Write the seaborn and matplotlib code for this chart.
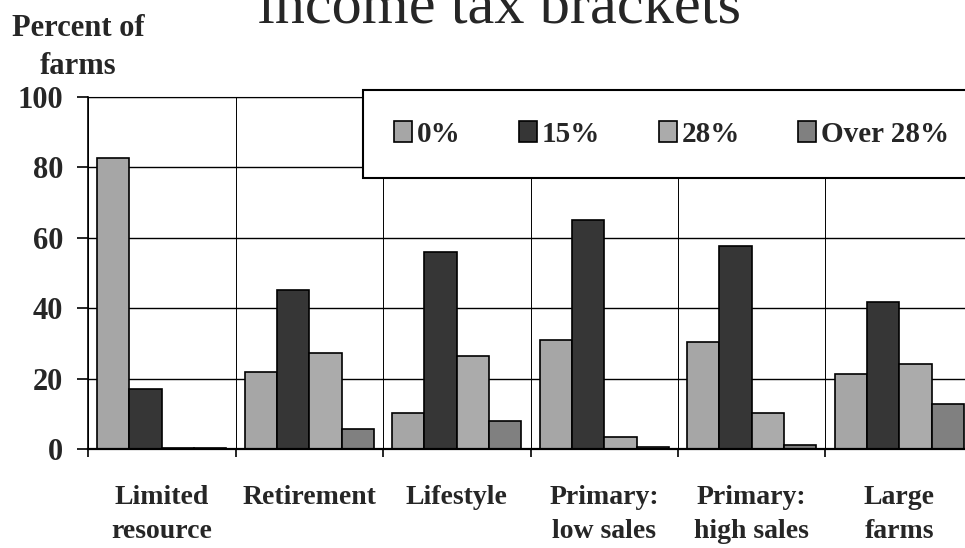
import matplotlib
matplotlib.use("Agg")
import matplotlib.pyplot as plt
import seaborn as sns
import pandas as pd
import numpy as np

categories = ["Limited\nresource", "Retirement", "Lifestyle",
              "Primary:\nlow sales", "Primary:\nhigh sales", "Large\nfarms"]
brackets = ["0%", "15%", "28%", "Over 28%"]
pct_0 = [82.8, 22.0, 10.3, 31.0, 30.5, 21.3]
pct_15 = [17.0, 45.3, 56.0, 65.0, 57.7, 41.7]
pct_28 = [0.4, 27.2, 26.5, 3.3, 10.1, 24.2]
pct_over = [0.4, 5.6, 7.9, 0.5, 1.0, 12.8]
yticks = [0, 20, 40, 60, 80, 100]
colors = ["#a6a6a6", "#363636", "#ababab", "#808080"]

rows = []
for b, vals in zip(brackets, [pct_0, pct_15, pct_28, pct_over]):
    for c, v in zip(categories, vals):
        rows.append({"category": c, "bracket": b, "value": v})
df = pd.DataFrame(rows)

sns.set_style("white")
plt.rcParams["font.family"] = ["Liberation Serif", "DejaVu Serif"]

W, H = 965, 548
fig = plt.figure(figsize=(W / 100, H / 100), dpi=100)
ax = fig.add_axes([88 / W, (H - 449) / H, 885 / W, (449 - 97) / H])

sns.barplot(data=df, x="category", y="value", hue="bracket",
            order=categories, hue_order=brackets,
            palette=dict(zip(brackets, colors)), saturation=1,
            edgecolor="black", linewidth=1.2, width=0.876, gap=0,
            errorbar=None, ax=ax)

ax.set_xlim(-0.5, 5.5)
ax.set_ylim(0, 100)
ax.set_yticks(yticks)
ax.set_xticks(np.arange(-0.5, 6.0, 1.0), minor=True)
ax.set_xlabel("")
ax.set_ylabel("")

ax.set_axisbelow(True)
ax.yaxis.grid(True, color="black", linewidth=1.0)
ax.xaxis.grid(False, which="major")
ax.xaxis.grid(True, which="minor", color="black", linewidth=0.7)

ax.tick_params(axis="y", direction="out", length=8, width=1.2, pad=10,
               labelsize=22, left=True, color="black")
ax.tick_params(axis="x", which="major", length=0, pad=26, labelsize=20)
ax.tick_params(axis="x", which="minor", direction="out", length=6,
               width=1.2, bottom=True, color="black")
for lbl in ax.get_yticklabels():
    lbl.set_fontweight("bold")
for lbl in ax.get_xticklabels():
    lbl.set_fontweight("bold")
    lbl.set_linespacing(1.49)

for s in ["left", "bottom", "top"]:
    ax.spines[s].set_color("black")
ax.spines["left"].set_linewidth(1.2)
ax.spines["bottom"].set_linewidth(1.6)
ax.spines["top"].set_linewidth(0.8)
ax.spines["right"].set_visible(False)

handles, labels = ax.get_legend_handles_labels()
leg = ax.legend(handles, labels, ncol=4, loc="upper left",
                bbox_to_anchor=(363 / W, 1 - 90 / H),
                bbox_transform=fig.transFigure, frameon=True, fancybox=False,
                edgecolor="black", framealpha=1, borderpad=1.05,
                columnspacing=2.0, handletextpad=0.17, handlelength=0.62,
                handleheight=0.7, borderaxespad=0,
                prop={"weight": "bold", "size": 21})
leg.get_frame().set_linewidth(1.5)

fig.text(499 / W, 1 - 24 / H, "income tax brackets", ha="center",
         va="baseline", fontsize=43.5)
fig.text(78 / W, 1 - 14 / H, "Percent of\nfarms", ha="center", va="top",
         fontsize=22, fontweight="bold", linespacing=1.42)

fig.savefig("out.png", dpi=100)
